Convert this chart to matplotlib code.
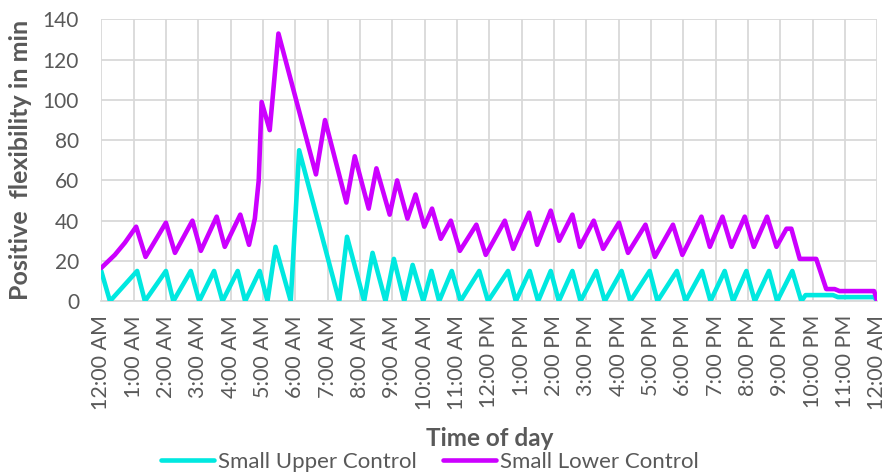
import matplotlib
matplotlib.use("Agg")
import matplotlib.pyplot as plt

# time in hours since midnight, values in minutes
upper_t = [0, 0.27, 1.11, 1.35, 2.0, 2.23, 2.77, 3.03, 3.49, 3.75, 4.22, 4.45, 4.9, 5.14,
           5.39, 5.86, 6.12, 7.36, 7.6, 8.13, 8.39, 8.79, 9.05, 9.37, 9.63, 9.96, 10.21,
           10.45, 10.84, 11.11, 11.69, 11.96, 12.58, 12.82, 13.25, 13.51, 13.9, 14.15,
           14.57, 14.82, 15.31, 15.57, 16.09, 16.36, 16.96, 17.2, 17.8, 18.07, 18.58,
           18.84, 19.28, 19.54, 19.95, 20.21, 20.65, 20.9, 21.37, 21.65, 21.78, 22.63,
           22.78, 23.9, 24]
upper_v = [15, 0, 15, 0, 15, 0, 15, 0, 15, 0, 15, 0, 15, 0,
           27, 0, 75, 0, 32, 0, 24, 0, 21, 0, 18, 0, 15,
           0, 15, 0, 15, 0, 15, 0, 15, 0, 15, 0,
           15, 0, 15, 0, 15, 0, 15, 0, 15, 0, 15,
           0, 15, 0, 15, 0, 15, 0, 15, 0, 3, 3,
           2, 2, 0]

lower_t = [0, 0.42, 0.73, 1.08, 1.37, 2.0, 2.28, 2.82, 3.08, 3.57, 3.82, 4.3, 4.57, 4.75,
           4.87, 4.96, 5.21, 5.48, 6.64, 6.92, 7.58, 7.84, 8.27, 8.51, 8.92, 9.15, 9.47,
           9.72, 9.99, 10.23, 10.5, 10.81, 11.09, 11.6, 11.89, 12.48, 12.74, 13.23, 13.48,
           13.9, 14.16, 14.57, 14.8, 15.23, 15.52, 16.01, 16.29, 16.83, 17.12, 17.68,
           17.97, 18.56, 18.82, 19.21, 19.49, 19.9, 20.18, 20.59, 20.88, 21.19, 21.34,
           21.6, 22.11, 22.42, 22.68, 22.83, 23.9, 24]
lower_v = [16.5, 23, 29, 37, 22, 39, 24, 40, 25, 42, 27, 43, 28, 41,
           60, 99, 85, 133, 63, 90, 49, 72, 46, 66, 43, 60, 41,
           53, 37, 46, 31, 40, 25, 38, 23, 40, 26, 44, 28,
           45, 30, 43, 27, 40, 26, 39, 24, 38, 22, 38,
           23, 42, 27, 42, 27, 42, 27, 42, 27, 36, 36,
           21, 21, 6, 6, 5, 5, 0]

hour_labels = ["12:00 AM", "1:00 AM", "2:00 AM", "3:00 AM", "4:00 AM", "5:00 AM",
               "6:00 AM", "7:00 AM", "8:00 AM", "9:00 AM", "10:00 AM", "11:00 AM",
               "12:00 PM", "1:00 PM", "2:00 PM", "3:00 PM", "4:00 PM", "5:00 PM",
               "6:00 PM", "7:00 PM", "8:00 PM", "9:00 PM", "10:00 PM", "11:00 PM",
               "12:00 AM"]

plt.rcParams["font.family"] = ["Lato", "DejaVu Sans"]
grey = "#595959"

fig = plt.figure(figsize=(8.88, 4.75), dpi=100)
ax = fig.add_axes([0.114, 0.366, 0.874, 0.593])

ax.plot(upper_t, upper_v, color="#00E8E0", lw=3.3, solid_joinstyle="round",
        solid_capstyle="round", label="Small Upper Control", zorder=3)
ax.plot(lower_t, lower_v, color="#CC00FF", lw=3.3, solid_joinstyle="round",
        solid_capstyle="round", label="Small Lower Control", zorder=4)

ax.set_xlim(0, 24)
ax.set_ylim(0, 140)
ax.set_xticks(range(25))
ax.set_xticklabels(hour_labels, rotation=90, fontsize=15.5, color=grey)
ax.set_yticks(range(0, 141, 20))
ax.tick_params(axis="y", labelsize=15, colors=grey, length=0, pad=16)
ax.tick_params(axis="x", length=0, pad=10)
ax.grid(True, color="#D9D9D9", lw=1.3)
for s in ax.spines.values():
    s.set_visible(False)
ax.spines["bottom"].set_visible(True)
ax.spines["bottom"].set_color("#D9D9D9")
ax.spines["bottom"].set_linewidth(1.3)

ax.set_xlabel("Time of day", fontsize=17.5, fontweight="bold", color=grey, labelpad=12)
ax.set_ylabel("Positive  flexibility in min", fontsize=18, fontweight="bold",
              color=grey, labelpad=8)

leg = fig.legend(loc="center", bbox_to_anchor=(0.484, 0.027), ncol=2, frameon=False,
                 fontsize=16, handlelength=2.4, handletextpad=0.15, columnspacing=1.2)
for t in leg.get_texts():
    t.set_color(grey)

fig.savefig("out.png", dpi=100)
